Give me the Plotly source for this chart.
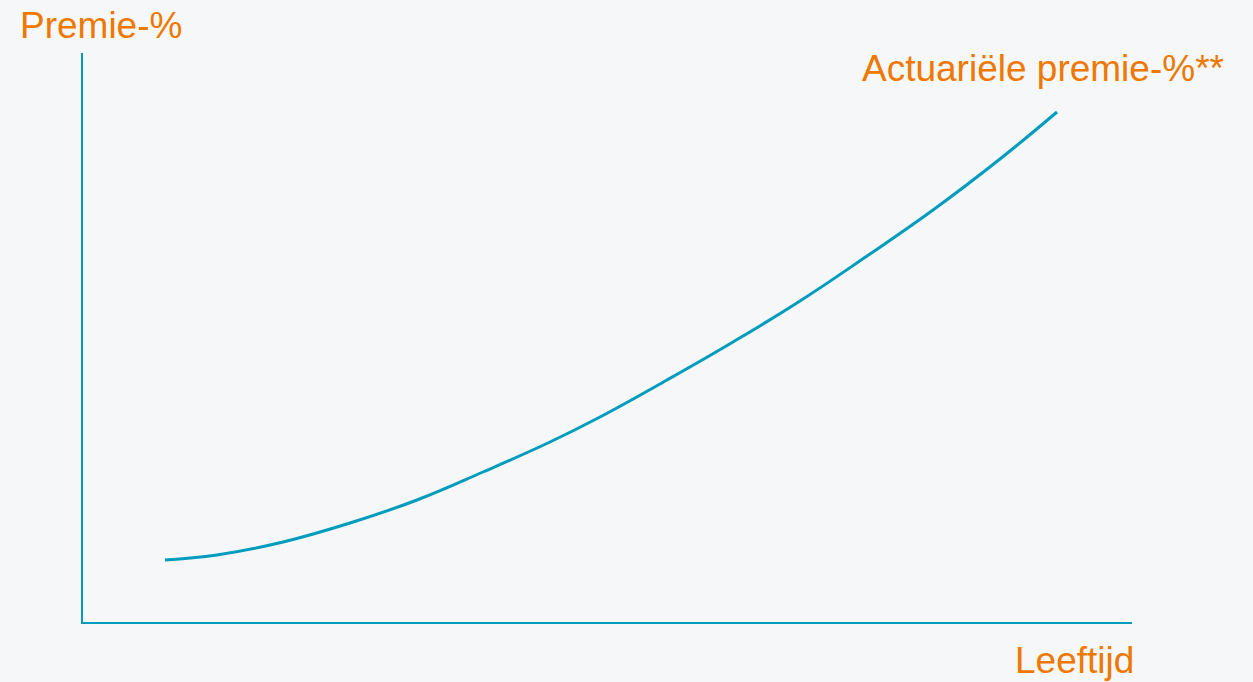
import plotly.graph_objects as go

# Data (arbitrary units: age along x, premium along y)
leeftijd = [82, 134, 200, 267, 334, 400, 467, 517, 584, 650, 717, 784, 850, 917, 974]
premie = [62, 67, 80, 99, 122, 150, 180, 205, 242, 280, 321, 366, 412, 463, 510]

x_range = [0, 1049]
y_range = [0, 569]

BLUE = "#009CBD"
ORANGE = "#EF7800"
BG = "#F5F7F9"
FONT = "Liberation Sans, Arial, sans-serif"
FS = 37

fig = go.Figure()
fig.add_trace(go.Scatter(
    x=leeftijd, y=premie, mode="lines",
    line=dict(color=BLUE, width=3, shape="spline", smoothing=1.2),
    hoverinfo="skip", showlegend=False,
))

axis_common = dict(showgrid=False, zeroline=False, showticklabels=False,
                   ticks="", showline=True, linecolor=BLUE, linewidth=2.3,
                   mirror=False, fixedrange=True)
fig.update_xaxes(range=x_range, **axis_common)
fig.update_yaxes(range=y_range, **axis_common)

fig.update_layout(
    width=1253, height=682,
    margin=dict(l=83, r=121, t=53, b=60),
    paper_bgcolor=BG, plot_bgcolor=BG,
    font=dict(family=FONT, color=ORANGE, size=FS),
    annotations=[
        dict(text="Premie-%", xref="paper", yref="paper", x=-0.0620, y=1.0490,
             xanchor="left", yanchor="middle", showarrow=False,
             font=dict(size=FS, color=ORANGE, family=FONT)),
        dict(text="Actuariële premie-%**", xref="paper", yref="paper", x=0.7410, y=0.9725,
             xanchor="left", yanchor="middle", showarrow=False,
             font=dict(size=FS, color=ORANGE, family=FONT)),
        dict(text="Leeftijd", xref="paper", yref="paper", x=1.0040, y=-0.0670,
             xanchor="right", yanchor="middle", showarrow=False,
             font=dict(size=FS, color=ORANGE, family=FONT)),
    ],
)

fig.write_html(
    "out.html",
    config={"displayModeBar": False},
    post_script="document.body.style.margin='0';document.body.style.overflow='hidden';document.body.style.background='#F5F7F9';",
)
